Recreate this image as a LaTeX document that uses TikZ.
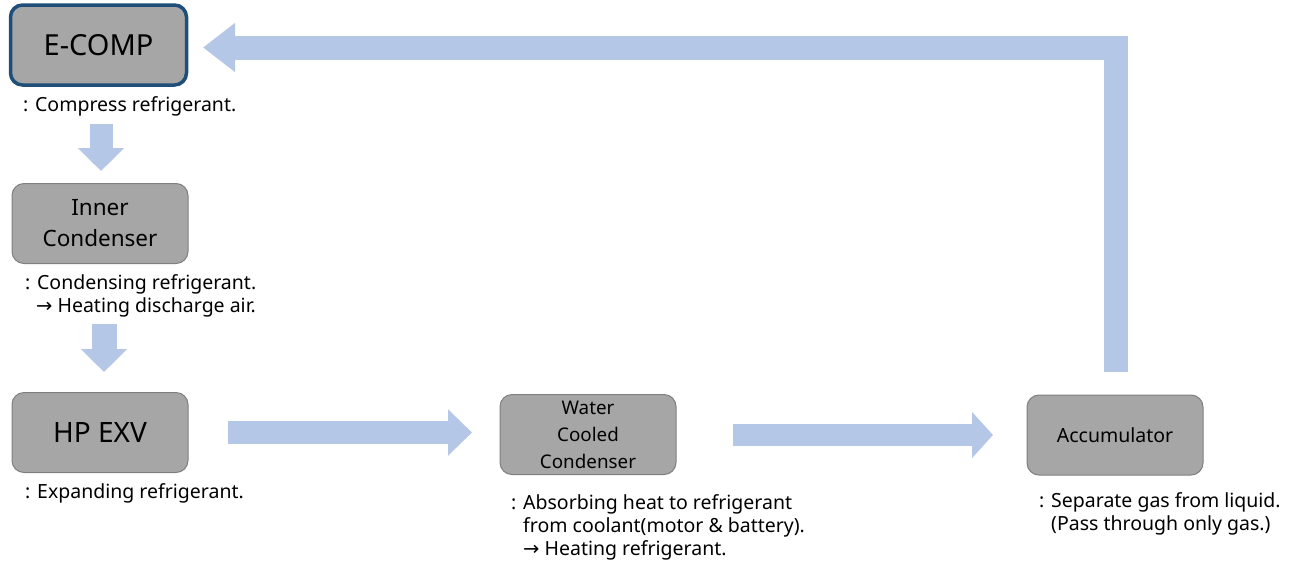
\documentclass[tikz,border=0pt]{standalone}
\usepackage{fontspec}
\setmainfont{Noto Sans}
\newfontfamily\arrowfont{DejaVu Sans}
\usetikzlibrary{arrows.meta}
\definecolor{arrowblue}{HTML}{B4C7E7}
\definecolor{boxgray}{HTML}{A6A6A6}
\definecolor{boxedge}{HTML}{7F7F7F}
\definecolor{compedge}{HTML}{1F4E79}
\tikzset{
  box/.style={draw=boxedge, line width=1pt, fill=boxgray, rounded corners=12pt,
    minimum width=176pt, minimum height=80pt, align=center, inner sep=0pt, text=black},
  compbox/.style={box, draw=compedge, line width=3.5pt},
  desc/.style={anchor=base west, inner sep=0pt, align=left, font=\fontsize{19.5}{23}\selectfont},
  blockarrow/.style={draw=arrowblue, line cap=butt, line join=miter},
}
\newcommand{\rar}{{\arrowfont →}}
\begin{document}
\begin{tikzpicture}[x=1pt,y=-1pt]
\useasboundingbox (0,0) rectangle (1298,563);
% boxes
\node[compbox, font=\fontsize{29}{30}\selectfont] (ecomp) at (98.5,45) {E-COMP};
\node[box, font=\fontsize{22.5}{31}\selectfont] (inner) at (100,223.5) {Inner\\Condenser};
\node[box, font=\fontsize{28}{30}\selectfont] (hpexv) at (100,432.5) {HP EXV};
\node[box, font=\fontsize{18.8}{27}\selectfont] (wcc) at (588,434.5) {Water\\Cooled\\Condenser};
\node[box, font=\fontsize{19.5}{22}\selectfont] (acc) at (1115,435) {Accumulator};
% descriptions (anchor = baseline of the last line)
\node[desc] (dcomp) at (23,111) {: Compress refrigerant.};
\node[desc] (dinner) at (25,312) {: Condensing refrigerant.\\\hspace*{11pt}\rar\ Heating discharge air.};
\node[desc] (dhpexv) at (25,498) {: Expanding refrigerant.};
\node[desc] (dwcc) at (511,555) {: Absorbing heat to refrigerant\\\hspace*{12pt}from coolant(motor \& battery).\\\hspace*{12pt}\rar\ Heating refrigerant.};
\node[desc] (dacc) at (1039,530) {: Separate gas from liquid.\\\hspace*{12pt}(Pass through only gas.)};
% arrow end points
\coordinate (d1s) at (101,124);
\coordinate (d1e) at (101,171);
\coordinate (d2s) at (104,324);
\coordinate (d2e) at (104,372);
\coordinate (r1s) at (228,432.5);
\coordinate (r1e) at (472,432.5);
\coordinate (r2s) at (733,435);
\coordinate (r2e) at (993,435);
\coordinate (rets) at (1116,372);
\coordinate (rete) at (203,47.5);
% block arrows
\draw[blockarrow, line width=23pt, -{Triangle[width=45pt,length=23pt]}] (d1s) -- (d1e);
\draw[blockarrow, line width=25pt, -{Triangle[width=45pt,length=23pt]}] (d2s) -- (d2e);
\draw[blockarrow, line width=23pt, -{Triangle[width=45pt,length=24pt]}] (r1s) -- (r1e);
\draw[blockarrow, line width=22pt, -{Triangle[width=45pt,length=21pt]}] (r2s) -- (r2e);
\draw[blockarrow, line width=24pt, -{Triangle[width=47pt,length=32pt]}] (rets) |- (rete);
\end{tikzpicture}
\end{document}
